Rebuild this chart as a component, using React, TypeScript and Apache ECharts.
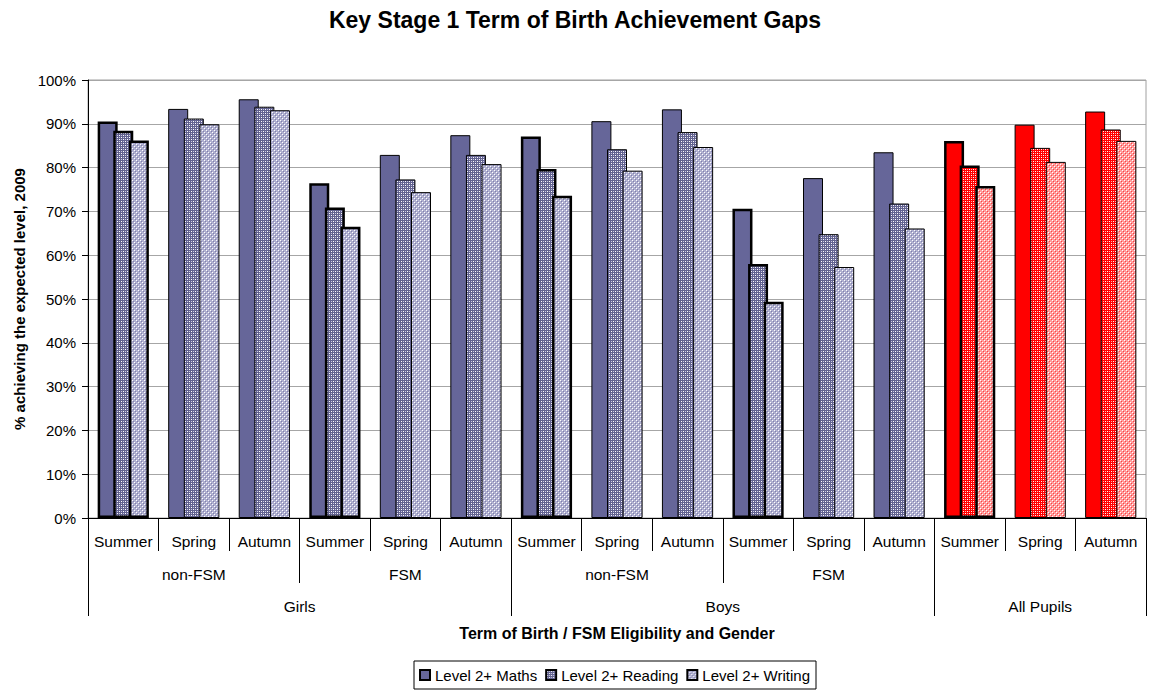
import React, { useEffect, useRef } from "react";
import * as echarts from "echarts";

const terms = [
  "Summer", "Spring", "Autumn",
  "Summer", "Spring", "Autumn",
  "Summer", "Spring", "Autumn",
  "Summer", "Spring", "Autumn",
  "Summer", "Spring", "Autumn",
];
const fsmGroups = ["non-FSM", "FSM", "non-FSM", "FSM", ""];
const fsmSpans = [3, 3, 3, 3, 3];
const genderGroups = ["Girls", "Boys", "All Pupils"];
const genderSpans = [6, 6, 3];

const seriesNames = ["Level 2+ Maths", "Level 2+ Reading", "Level 2+ Writing"];
const maths = [90.5, 93.4, 95.6, 76.4, 82.9, 87.4, 87.1, 90.6, 93.3, 70.6, 77.6, 83.5, 86.1, 89.8, 92.8];
const reading = [88.4, 91.2, 93.9, 70.9, 77.3, 82.9, 79.7, 84.2, 88.1, 58.0, 64.8, 71.8, 80.5, 84.5, 88.7];
const writing = [86.2, 89.9, 93.1, 66.5, 74.4, 80.8, 73.6, 79.3, 84.7, 49.4, 57.3, 66.1, 75.8, 81.3, 86.1];
const yTicks = [0, 10, 20, 30, 40, 50, 60, 70, 80, 90, 100];

const FONT = "'Liberation Sans', Arial, sans-serif";

function makePattern(base: string, dots: [number, number, string][]) {
  const c = document.createElement("canvas");
  c.width = 4;
  c.height = 4;
  const ctx = c.getContext("2d")!;
  ctx.fillStyle = base;
  ctx.fillRect(0, 0, 4, 4);
  for (const [x, y, col] of dots) {
    ctx.fillStyle = col;
    ctx.fillRect(x, y, 1, 1);
  }
  return { image: c, repeat: "repeat" as const, imageWidth: 4, imageHeight: 4 };
}

function spansToBounds(spans: number[]) {
  const bounds = [0];
  const centers: number[] = [];
  let acc = 0;
  for (const s of spans) {
    centers.push(acc + s / 2);
    acc += s;
    bounds.push(acc);
  }
  return { bounds, centers };
}

export default function App() {
  const ref = useRef<HTMLDivElement>(null);
  useEffect(() => {
    if (!ref.current) return;
    const chart = echarts.init(ref.current, null, { renderer: "svg" });

    const blueSolid = "#666699";
    const blueReading = makePattern("#62628f", [
      [1, 1, "#ffffff"], [3, 3, "#ffffff"], [1, 3, "#c8c8e6"], [3, 1, "#c8c8e6"],
    ]);
    const blueWriting = makePattern("#b0b0d0", [
      [0, 0, "#ffffff"], [2, 2, "#ffffff"], [1, 1, "#8080ac"], [3, 3, "#8080ac"],
    ]);
    const redSolid = "#ff0000";
    const redReading = makePattern("#ff0000", [
      [1, 1, "#ffffff"], [3, 3, "#ffffff"], [1, 3, "#ffb0b0"], [3, 1, "#ffb0b0"],
    ]);
    const redWriting = makePattern("#ff9c9c", [
      [0, 0, "#ffffff"], [2, 2, "#ffffff"], [1, 1, "#ff4040"], [3, 3, "#ff4040"],
    ]);

    const blueFills = [blueSolid, blueReading, blueWriting];
    const redFills = [redSolid, redReading, redWriting];
    const allPupilsStart = genderSpans[0] + genderSpans[1];

    const values = [maths, reading, writing];
    const fsm = spansToBounds(fsmSpans);
    const gender = spansToBounds(genderSpans);
    const n = terms.length;

    const series = values.map((arr, si) => ({
      type: "bar",
      name: seriesNames[si],
      xAxisIndex: 0,
      yAxisIndex: 0,
      barWidth: 20,
      barGap: "-22%",
      itemStyle: { color: blueFills[si], borderColor: "#000", borderWidth: 1 },
      data: arr.map((v, i) => ({
        value: v,
        itemStyle: {
          color: i >= allPupilsStart ? redFills[si] : blueFills[si],
          borderColor: "#000",
          borderWidth: terms[i] === "Summer" ? 2.5 : 1,
        },
      })),
    }));

    const gridRect = { left: 88, right: 4, top: 80, bottom: 173, outerBoundsMode: "none" };
    const labelStyle = { fontFamily: FONT, fontSize: 15, color: "#000", lineHeight: 16 };
    const catLabelStyle = { ...labelStyle, fontSize: 15.5 };

    chart.setOption({
      animation: false,
      backgroundColor: "#fff",
      title: {
        text: "Key Stage 1 Term of Birth Achievement Gaps",
        left: "center",
        top: 3,
        textStyle: { fontFamily: FONT, fontSize: 23, fontWeight: "bold", color: "#000" },
      },
      legend: {
        left: 414,
        top: 661,
        orient: "horizontal",
        itemWidth: 10,
        itemHeight: 10,
        itemGap: 8,
        icon: "rect",
        padding: [6, 6, 6, 5],
        borderColor: "#000",
        borderWidth: 1,
        borderRadius: 0,
        textStyle: { fontFamily: FONT, fontSize: 15, color: "#000", lineHeight: 16 },
        data: seriesNames,
      },
      grid: [
        { ...gridRect, show: true, borderColor: "#a0a0a0", borderWidth: 1 },
        { ...gridRect, show: false },
        { ...gridRect, show: false },
      ],
      xAxis: [
        {
          type: "category",
          gridIndex: 0,
          data: terms,
          axisLine: { show: true, lineStyle: { color: "#000", width: 1 } },
          axisTick: { show: true, interval: 0, length: 33, lineStyle: { color: "#000", width: 1 } },
          axisLabel: { interval: 0, margin: 15, ...catLabelStyle },
          splitLine: { show: false },
        },
        {
          type: "value",
          gridIndex: 1,
          min: 0,
          max: n,
          axisLine: { show: false },
          splitLine: { show: false },
          axisTick: {
            show: true,
            customValues: fsm.bounds,
            length: 65,
            lineStyle: { color: "#000", width: 1 },
          },
          axisLabel: {
            show: true,
            customValues: fsm.centers,
            margin: 48,
            ...catLabelStyle,
            formatter: (v: number) => {
              const idx = fsm.centers.findIndex((c) => Math.abs(c - v) < 1e-6);
              return idx >= 0 ? fsmGroups[idx] : "";
            },
          },
        },
        {
          type: "value",
          gridIndex: 2,
          min: 0,
          max: n,
          axisLine: { show: false },
          splitLine: { show: false },
          axisTick: {
            show: true,
            customValues: gender.bounds,
            length: 98,
            lineStyle: { color: "#000", width: 1 },
          },
          axisLabel: {
            show: true,
            customValues: gender.centers,
            margin: 80,
            ...catLabelStyle,
            formatter: (v: number) => {
              const idx = gender.centers.findIndex((c) => Math.abs(c - v) < 1e-6);
              return idx >= 0 ? genderGroups[idx] : "";
            },
          },
          name: "Term of Birth / FSM Eligibility and Gender",
          nameLocation: "middle",
          nameGap: 107,
          nameTextStyle: { fontFamily: FONT, fontSize: 16, fontWeight: "bold", color: "#000" },
        },
      ],
      yAxis: [
        {
          type: "value",
          gridIndex: 0,
          min: yTicks[0],
          max: yTicks[yTicks.length - 1],
          interval: 10,
          axisLine: { show: true, lineStyle: { color: "#000", width: 1 } },
          axisTick: { show: true, length: 6, lineStyle: { color: "#000" } },
          axisLabel: { margin: 12, formatter: "{value}%", ...labelStyle },
          splitLine: { show: true, lineStyle: { color: "#a6a6a6", width: 1 } },
          name: "% achieving the expected level, 2009",
          nameLocation: "middle",
          nameGap: 60,
          nameTextStyle: { fontFamily: FONT, fontSize: 15, fontWeight: "bold", color: "#000" },
        },
        { type: "value", gridIndex: 1, show: false, min: 0, max: 1 },
        { type: "value", gridIndex: 2, show: false, min: 0, max: 1 },
      ],
      series,
    });

    return () => chart.dispose();
  }, []);

  return (
    <div
      ref={ref}
      style={{ position: "fixed", left: 0, top: 0, width: 1150, height: 691 }}
    />
  );
}
